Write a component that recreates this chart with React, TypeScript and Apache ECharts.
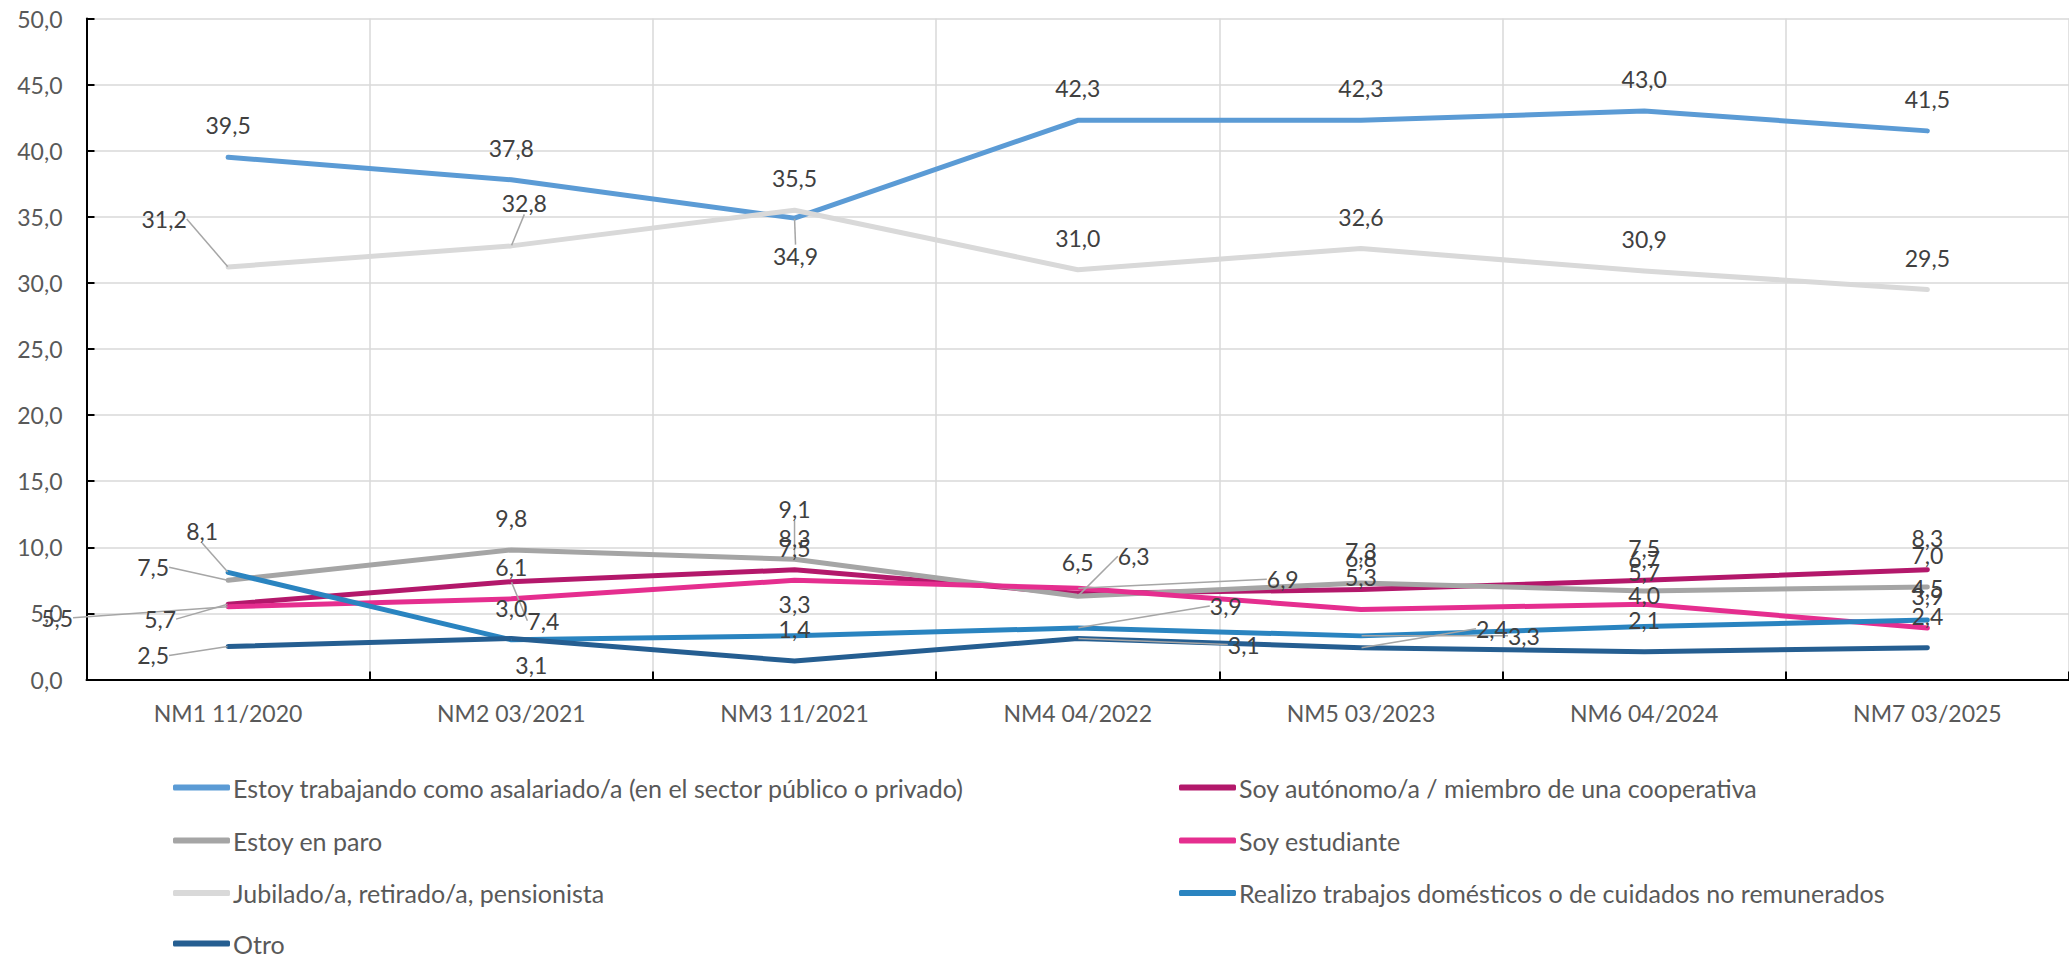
import React, { useEffect, useRef } from "react";
import * as echarts from "echarts";

const categories = [
  "NM1 11/2020",
  "NM2 03/2021",
  "NM3 11/2021",
  "NM4 04/2022",
  "NM5 03/2023",
  "NM6 04/2024",
  "NM7 03/2025",
];

const seriesNames = [
  "Estoy trabajando como asalariado/a (en el sector público o privado)",
  "Soy autónomo/a / miembro de una cooperativa",
  "Estoy en paro",
  "Soy estudiante",
  "Jubilado/a, retirado/a, pensionista",
  "Realizo trabajos domésticos o de cuidados no remunerados",
  "Otro",
];

const asalariado = [39.5, 37.8, 34.9, 42.3, 42.3, 43.0, 41.5];
const autonomo = [5.7, 7.4, 8.3, 6.5, 6.8, 7.5, 8.3];
const paro = [7.5, 9.8, 9.1, 6.3, 7.3, 6.7, 7.0];
const estudiante = [5.5, 6.1, 7.5, 6.9, 5.3, 5.7, 3.9];
const jubilado = [31.2, 32.8, 35.5, 31.0, 32.6, 30.9, 29.5];
const domesticos = [8.1, 3.0, 3.3, 3.9, 3.3, 4.0, 4.5];
const otro = [2.5, 3.1, 1.4, 3.1, 2.4, 2.1, 2.4];

const yMin = 0;
const yMax = 50;
const yInterval = 5;

const seriesValues = [asalariado, autonomo, paro, estudiante, jubilado, domesticos, otro];
const seriesColors = ["#5B9BD5", "#B3186B", "#A5A5A5", "#E52E8F", "#D9D9D9", "#2A84C0", "#255E91"];

// label displacement (dx, dy from default "top" place) and whether a leader line is drawn
const labelShift: Record<number, Record<number, [number, number, boolean]>> = {
  0: { 2: [1, 70, true] },
  1: { 0: [-68, 47, true], 1: [32, 71, true] },
  2: { 0: [-75, 19, true], 2: [0, -18, true], 3: [56, -8, true] },
  3: { 0: [-171, 43, true], 3: [205, 23, true] },
  4: { 0: [-64, -16, true], 1: [13, -11, true] },
  5: { 0: [-26, -9, true], 3: [148, 10, true], 4: [163, 32, true] },
  6: { 0: [-75, 41, true], 1: [20, 58, false], 3: [166, 38, true], 4: [131, 13, true] },
};

// legend placement: [column left, row center]
const legendSlots: [number, number][] = [
  [173, 786],
  [1179, 786],
  [173, 839],
  [1179, 839],
  [173, 891.5],
  [1179, 891.5],
  [173, 942],
];

const FONT = "Lato, 'Noto Sans', sans-serif";
const fmt = (v: number) => v.toFixed(1).replace(".", ",");

export default function App() {
  const ref = useRef<HTMLDivElement>(null);

  useEffect(() => {
    document.body.style.margin = "0";
    if (!ref.current) return;
    const chart = echarts.init(ref.current, undefined, { renderer: "svg" });

    const series = seriesNames.map((name, si) => ({
      name,
      type: "line",
      data: seriesValues[si].map((v, di) => {
        const s = labelShift[si] && labelShift[si][di];
        return {
          value: v,
          labelLine: { show: !!(s && s[2]) },
        };
      }),
      symbol: "circle",
      symbolSize: 1,
      showSymbol: true,
      itemStyle: { color: seriesColors[si] },
      lineStyle: { color: seriesColors[si], width: 5, cap: "round", join: "round" },
      emphasis: { disabled: true },
      label: {
        show: true,
        position: "top",
        distance: 20,
        fontSize: 23,
        fontFamily: FONT,
        color: "#404040",
        formatter: (p: any) => fmt(p.value),
      },
      labelLine: {
        show: false,
        lineStyle: { color: "#A6A6A6", width: 1.5 },
      },
      labelLayout: (params: any) => {
        const s = labelShift[params.seriesIndex] && labelShift[params.seriesIndex][params.dataIndex];
        return s ? { dx: s[0], dy: s[1] } : {};
      },
    }));

    const legends = seriesNames.map((name, i) => ({
      orient: "horizontal",
      icon: "roundRect",
      itemWidth: 57,
      itemHeight: 6,
      padding: 0,
      selectedMode: false,
      left: legendSlots[i][0],
      top: legendSlots[i][1] - 11,
      data: [name],
      textStyle: { fontSize: 25, fontFamily: FONT, color: "#595959", lineHeight: 22, padding: [0, 0, 0, -2] },
    }));

    chart.setOption({
      animation: false,
      textStyle: { fontFamily: FONT },
      grid: { left: 86.5, top: 18.5, width: 1983, height: 661, containLabel: false },
      xAxis: {
        type: "category",
        data: categories,
        boundaryGap: true,
        axisLine: { show: true, lineStyle: { color: "#000000", width: 2 } },
        axisTick: { show: true, inside: true, length: 8, lineStyle: { color: "#000000", width: 2 } },
        splitLine: { show: true, lineStyle: { color: "#D9D9D9", width: 1.5 } },
        axisLabel: { fontSize: 23, fontFamily: FONT, color: "#595959", margin: 22 },
      },
      yAxis: {
        type: "value",
        min: yMin,
        max: yMax,
        interval: yInterval,
        axisLine: { show: true, lineStyle: { color: "#000000", width: 2 } },
        axisTick: { show: true, inside: true, length: 8, lineStyle: { color: "#000000", width: 2 } },
        splitLine: { show: true, lineStyle: { color: "#D9D9D9", width: 1.5 } },
        axisLabel: {
          fontSize: 23,
          fontFamily: FONT,
          color: "#595959",
          margin: 24,
          formatter: (v: number) => fmt(v),
        },
      },
      legend: legends,
      series,
    });

    return () => chart.dispose();
  }, []);

  return <div ref={ref} style={{ width: 2069, height: 954 }} />;
}
